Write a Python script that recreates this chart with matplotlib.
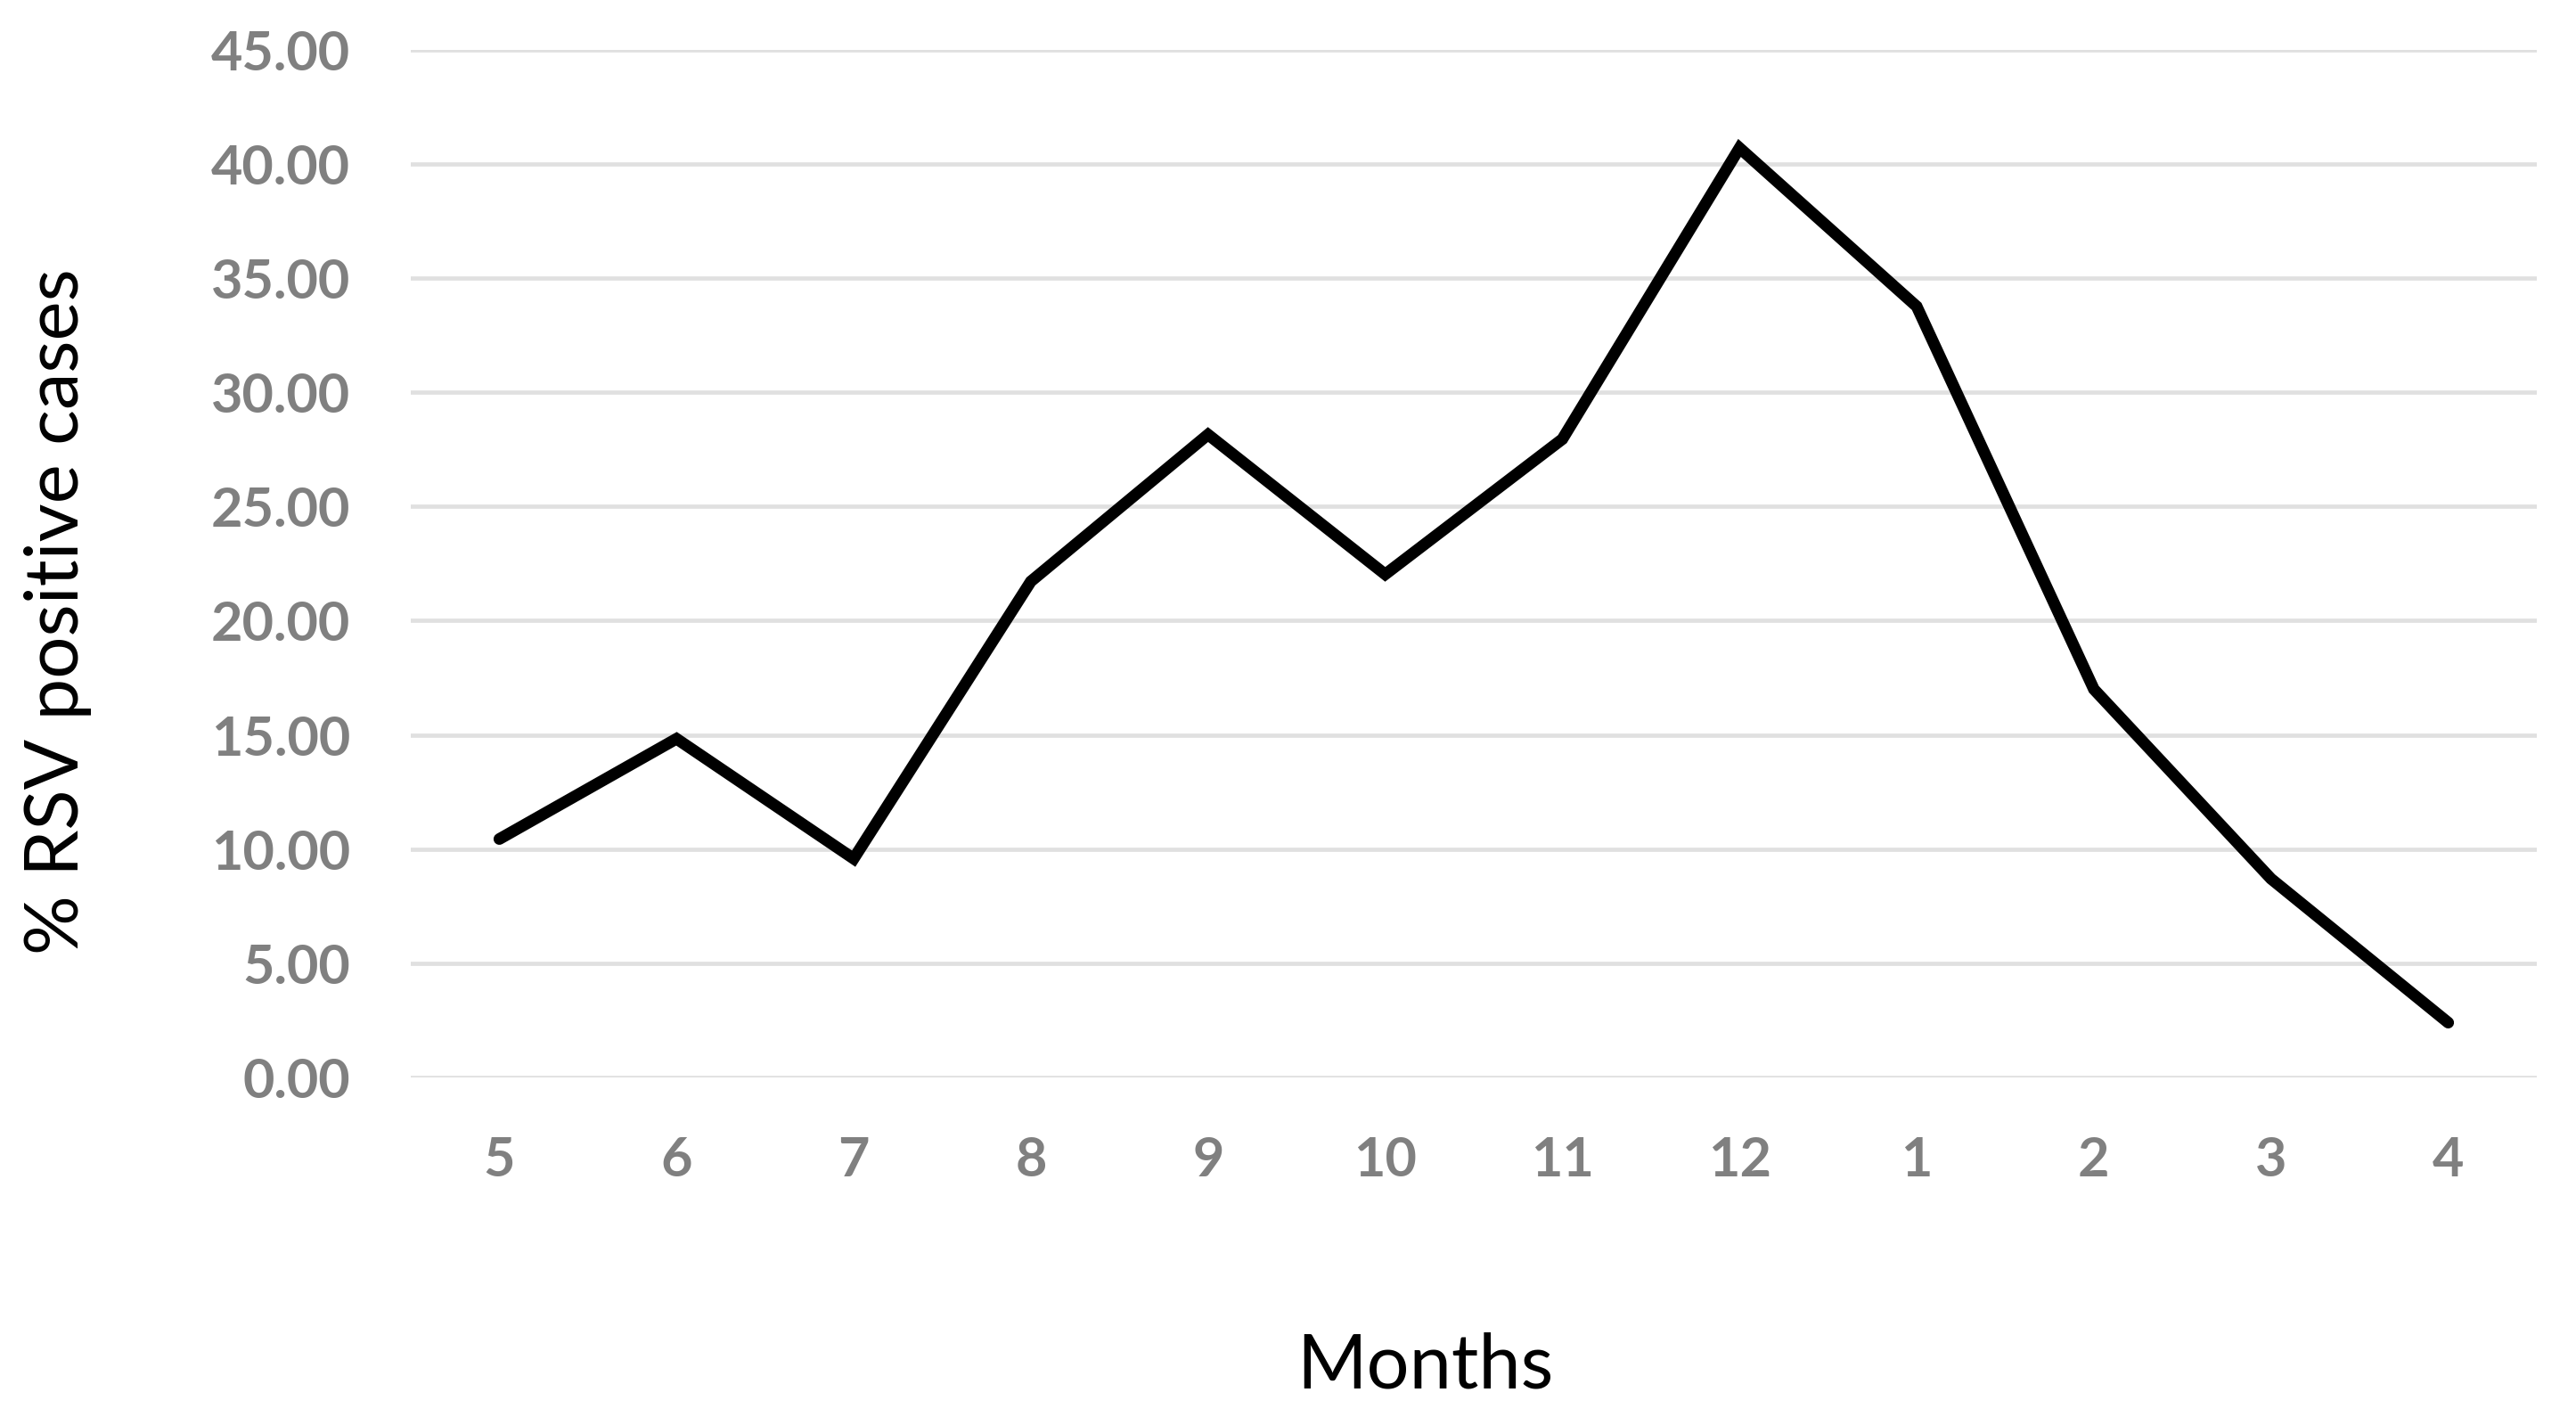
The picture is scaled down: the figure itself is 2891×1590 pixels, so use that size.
import matplotlib
matplotlib.use("Agg")
import matplotlib.pyplot as plt

months = ["5", "6", "7", "8", "9", "10", "11", "12", "1", "2", "3", "4"]
rsv_pct = [10.44, 14.83, 9.58, 21.72, 28.15, 22.03, 27.95, 40.70, 33.76, 17.00, 8.70, 2.40]
y_ticks = [0, 5, 10, 15, 20, 25, 30, 35, 40, 45]

plt.rcParams['font.family'] = ['Lato', 'DejaVu Sans']

W, H = 2891, 1590
dpi = 100
fig = plt.figure(figsize=(W / dpi, H / dpi), dpi=dpi)
left, right = 461 / W, 2847 / W
bottom, top = 1 - 1209 / H, 1 - 55.8 / H
ax = fig.add_axes([left, bottom, right - left, top - bottom])

x = list(range(len(months)))
ax.plot(x, rsv_pct, color='black', linewidth=9.4, solid_joinstyle='miter',
        solid_capstyle='round', zorder=3)

ax.set_xlim(-0.5, len(months) - 0.5)
ax.set_ylim(0, 45)
ax.set_yticks(y_ticks)
ax.set_yticklabels([f"{v:.2f}" for v in y_ticks])
ax.set_xticks(x)
ax.set_xticklabels(months)

for t in y_ticks:
    ax.axhline(t, color='#e0e0e0', linewidth=3.4, zorder=1)

for s in ax.spines.values():
    s.set_visible(False)
ax.tick_params(axis='both', length=0, labelsize=44, labelcolor='#808080')
ax.tick_params(axis='y', pad=49)
ax.tick_params(axis='x', pad=47)
for lab in ax.get_xticklabels() + ax.get_yticklabels():
    lab.set_fontweight('bold')

fig.text(65 / W, 1 - 686 / H, "% RSV positive cases", rotation=90,
         ha='center', va='center', fontsize=60, color='black')
fig.text(1599 / W, 1 - 1534 / H, "Months", ha='center', va='center',
         fontsize=61, color='black')

fig.savefig("out.png", dpi=dpi)
